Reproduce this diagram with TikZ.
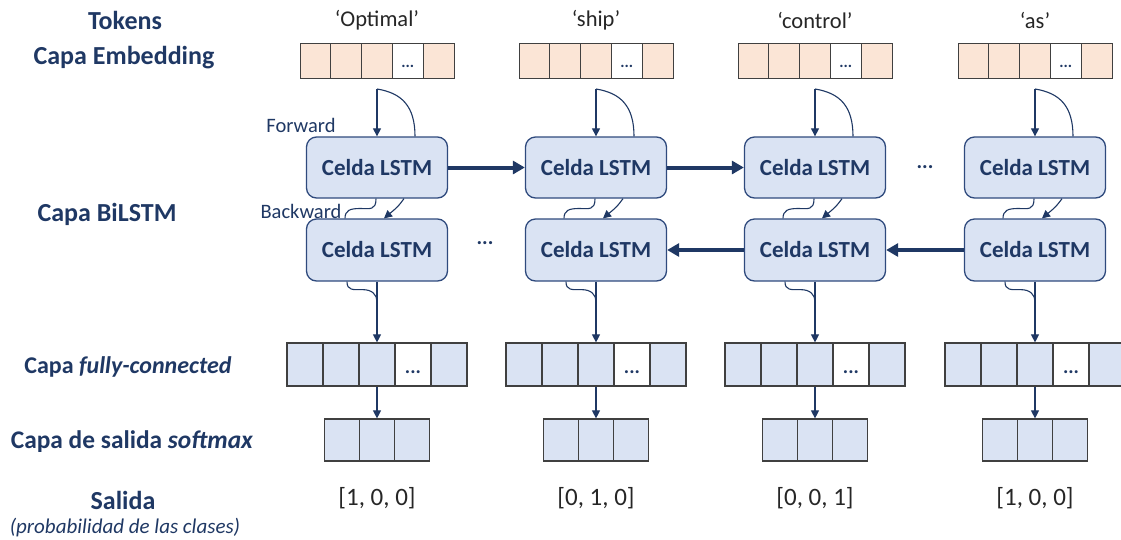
\documentclass[tikz,border=0pt]{standalone}
\usepackage{fontspec}
\setmainfont{Carlito}
\usetikzlibrary{arrows.meta,calc}
\definecolor{cdark}{HTML}{1F3864}
\definecolor{cfill}{HTML}{DAE3F3}
\definecolor{cline}{HTML}{2F4A7D}
\definecolor{cpeach}{HTML}{FBE5D6}
\definecolor{cgray}{HTML}{404040}
\definecolor{ctext}{HTML}{262626}
\begin{document}
\begin{tikzpicture}[x=1pt,y=-1pt,
 lstm/.style={draw=cline, fill=cfill, rounded corners=10pt, line width=1.3pt, minimum width=141pt, minimum height=61pt, inner sep=0pt, text=cdark, font=\bfseries\fontsize{23}{26}\selectfont},
 embcell/.style={draw=cgray, fill=cpeach, line width=1pt, minimum width=30.8pt, minimum height=35pt, inner sep=0pt, font=\bfseries\fontsize{16}{16}\selectfont, text=cdark},
 fccell/.style={draw=cgray, fill=cfill, line width=1.2pt, minimum width=36pt, minimum height=43pt, inner sep=0pt, font=\bfseries\fontsize{20}{20}\selectfont, text=cdark},
 smcell/.style={draw=cgray, fill=cfill, line width=1.2pt, minimum width=35pt, minimum height=42pt, inner sep=0pt},
 lab/.style={text=cdark, font=\bfseries\fontsize{26}{30}\selectfont, inner sep=0pt},
 sublab/.style={text=cdark, font=\itshape\fontsize{21}{24}\selectfont, inner sep=0pt},
 dirlab/.style={text=cdark, font=\fontsize{20.5}{24}\selectfont, inner sep=0pt},
 toklab/.style={text=ctext, font=\fontsize{22.5}{26}\selectfont, inner sep=0pt},
 outlab/.style={text=ctext, font=\fontsize{25}{28}\selectfont, inner sep=0pt},
 dotlab/.style={text=cdark, font=\bfseries\fontsize{21}{24}\selectfont, inner sep=0pt},
 thinline/.style={draw=cdark, line width=1.1pt},
 thinarrow/.style={thinline, -{Triangle[length=8pt,width=8pt]}},
 thickarrow/.style={draw=cdark, line width=4pt, -{Triangle[length=12pt,width=13pt]}},
]
\useasboundingbox (0,0) rectangle (1121,539);

% left labels
\node[lab] (ltok) at (125,20) {Tokens};
\node[lab] (lemb) at (124,58) {Capa Embedding};
\node[lab] (lbil) at (107,214) {Capa BiLSTM};
\node[lab, font=\bfseries\fontsize{24}{28}\selectfont] (lfc) at (128,367) {Capa \textit{fully-connected}};
\node[lab, font=\bfseries\fontsize{25.4}{29}\selectfont] (lsm) at (132,442) {Capa de salida \textit{softmax}};
\node[lab] (lsal) at (123,500) {Salida};
\node[sublab] (lprob) at (125,528) {(probabilidad de las clases)};
\node[dirlab] (lfw) at (301,125) {Forward};
\node[dirlab] (lbw) at (301,211) {Backward};

\foreach \i/\cx/\tok/\out in {1/377/Optimal/{[1, 0, 0]},2/596/ship/{[0, 1, 0]},3/815/control/{[0, 0, 1]},4/1035/as/{[1, 0, 0]}}{
  \node[toklab] (tok\i) at (\cx,20) {‘\tok’};
  % embedding
  \foreach \j in {0,1,2,4}{
    \node[embcell] (emb\i-\j) at ({\cx-77+30.8*(\j+0.5)},60.5) {};
  }
  \node[embcell,fill=white] (emb\i-3) at ({\cx-77+30.8*3.5},60.5) {\smash{\raisebox{-7pt}{...}}};
  \coordinate (es\i) at (\cx,89);
  % lstm cells
  \node[lstm] (fw\i) at (\cx,167.5) {Celda LSTM};
  \node[lstm, minimum height=62pt] (bw\i) at (\cx,250) {Celda LSTM};
  % fully connected
  \foreach \j in {0,1,2,4}{
    \node[fccell] (fc\i-\j) at ({\cx-90+36*(\j+0.5)},364.5) {};
  }
  \node[fccell,fill=white] (fc\i-3) at ({\cx-90+36*3.5},364.5) {\smash{\raisebox{-9pt}{...}}};
  % softmax
  \foreach \j in {0,1,2}{
    \node[smcell] (sm\i-\j) at ({\cx-52.5+35*(\j+0.5)},440) {};
  }
  \node[outlab] (out\i) at (\cx,498) {\out};
}

\foreach \i in {1,2,3,4}{
  \draw[thinarrow] (es\i) -- (fw\i.north);
  \draw[thinline] (es\i) .. controls +(25,4) and +(0,-30) .. ($(fw\i.north)+(38,0)$);
  \draw[thinline] ($(fw\i.south)+(-1,0)$) .. controls +(0,12) and +(10,0) .. ($(fw\i.south)!0.5!(bw\i.north)+(-17,0)$) .. controls +(-10,0) and +(0,-8) .. ($(bw\i.north)+(-32,0)$);
  \draw[thinarrow] ($(fw\i.south)+(27,0)$) .. controls +(-6,8) .. ($(bw\i.north)+(7,0)$);
  \draw[thinarrow] (bw\i.south) -- (fc\i-2.north);
  \draw[thinline] ($(bw\i.south)+(-30,0)$) .. controls +(0,9) and +(-10,0) .. ($(bw\i.south)+(-14,8)$) .. controls +(9,0) and +(0,-7) .. ($(bw\i.south)+(0,20)$);
  \draw[thinarrow] (fc\i-2.south) -- (sm\i-1.north);
}

\draw[thickarrow] (fw1.east) -- (fw2.west);
\draw[thickarrow] (fw2.east) -- (fw3.west);
\draw[thickarrow] (bw4.west) -- (bw3.east);
\draw[thickarrow] (bw3.west) -- (bw2.east);

\node[dotlab] (dotsf) at (925,167) {...};
\node[dotlab] (dotsb) at (485,243) {...};
\end{tikzpicture}
\end{document}
